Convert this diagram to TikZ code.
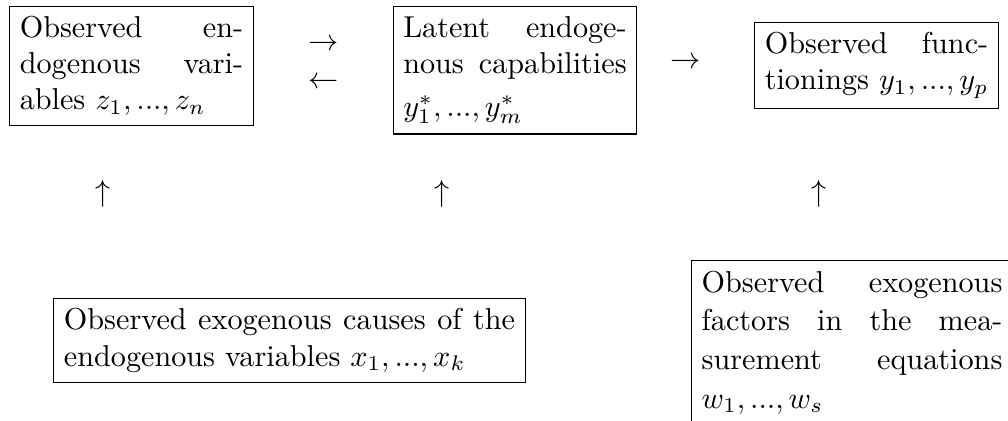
\documentclass[tikz,border=0pt]{standalone}
\usepackage{tikz}

\tikzset{
  box/.style={draw, inner sep=3.33pt, align=justify},
  sym/.style={inner sep=0pt}
}

\begin{document}
\begin{tikzpicture}
  \useasboundingbox (0,0) rectangle (11.730,-4.888);

  % top row
  \node[box, text width=2.6cm] (endog) at (1.530,-0.768)
    {Observed endogenous variables $z_1, ..., z_n$};
  \node[box, text width=2.6cm] (latent) at (5.993,-0.815)
    {Latent endogenous capabilities \rule{0pt}{11.3pt}$y_1^*, ..., y_m^*$};
  \node[box, text width=2.6cm] (funct) at (10.200,-0.762)
    {Observed functionings $y_1, ..., y_p$};

  \node[sym] (zy) at (3.770,-0.524) {$\rightarrow$};
  \node[sym] (yz) at (3.770,-0.966) {$\leftarrow$};
  \node[sym] (yf) at (7.983,-0.733) {$\rightarrow$};

  % upward influences
  \node[sym] (upz) at (1.199,-2.258) {$\uparrow$};
  \node[sym] (upy) at (5.144,-2.258) {$\uparrow$};
  \node[sym] (upf) at (9.531,-2.258) {$\uparrow$};

  % bottom row
  \node[box, text width=5.25cm] (exocause) at (3.369,-3.962)
    {Observed exogenous causes of the endogenous variables $x_1, ..., x_k$};
  \node[box, text width=3.5cm, anchor=north west,
        font=\linespread{1.07}\selectfont] (exomeas) at (8.041,-3.026)
    {Observed exogenous factors in the measurement equations $w_1, ..., w_s$};
\end{tikzpicture}
\end{document}
